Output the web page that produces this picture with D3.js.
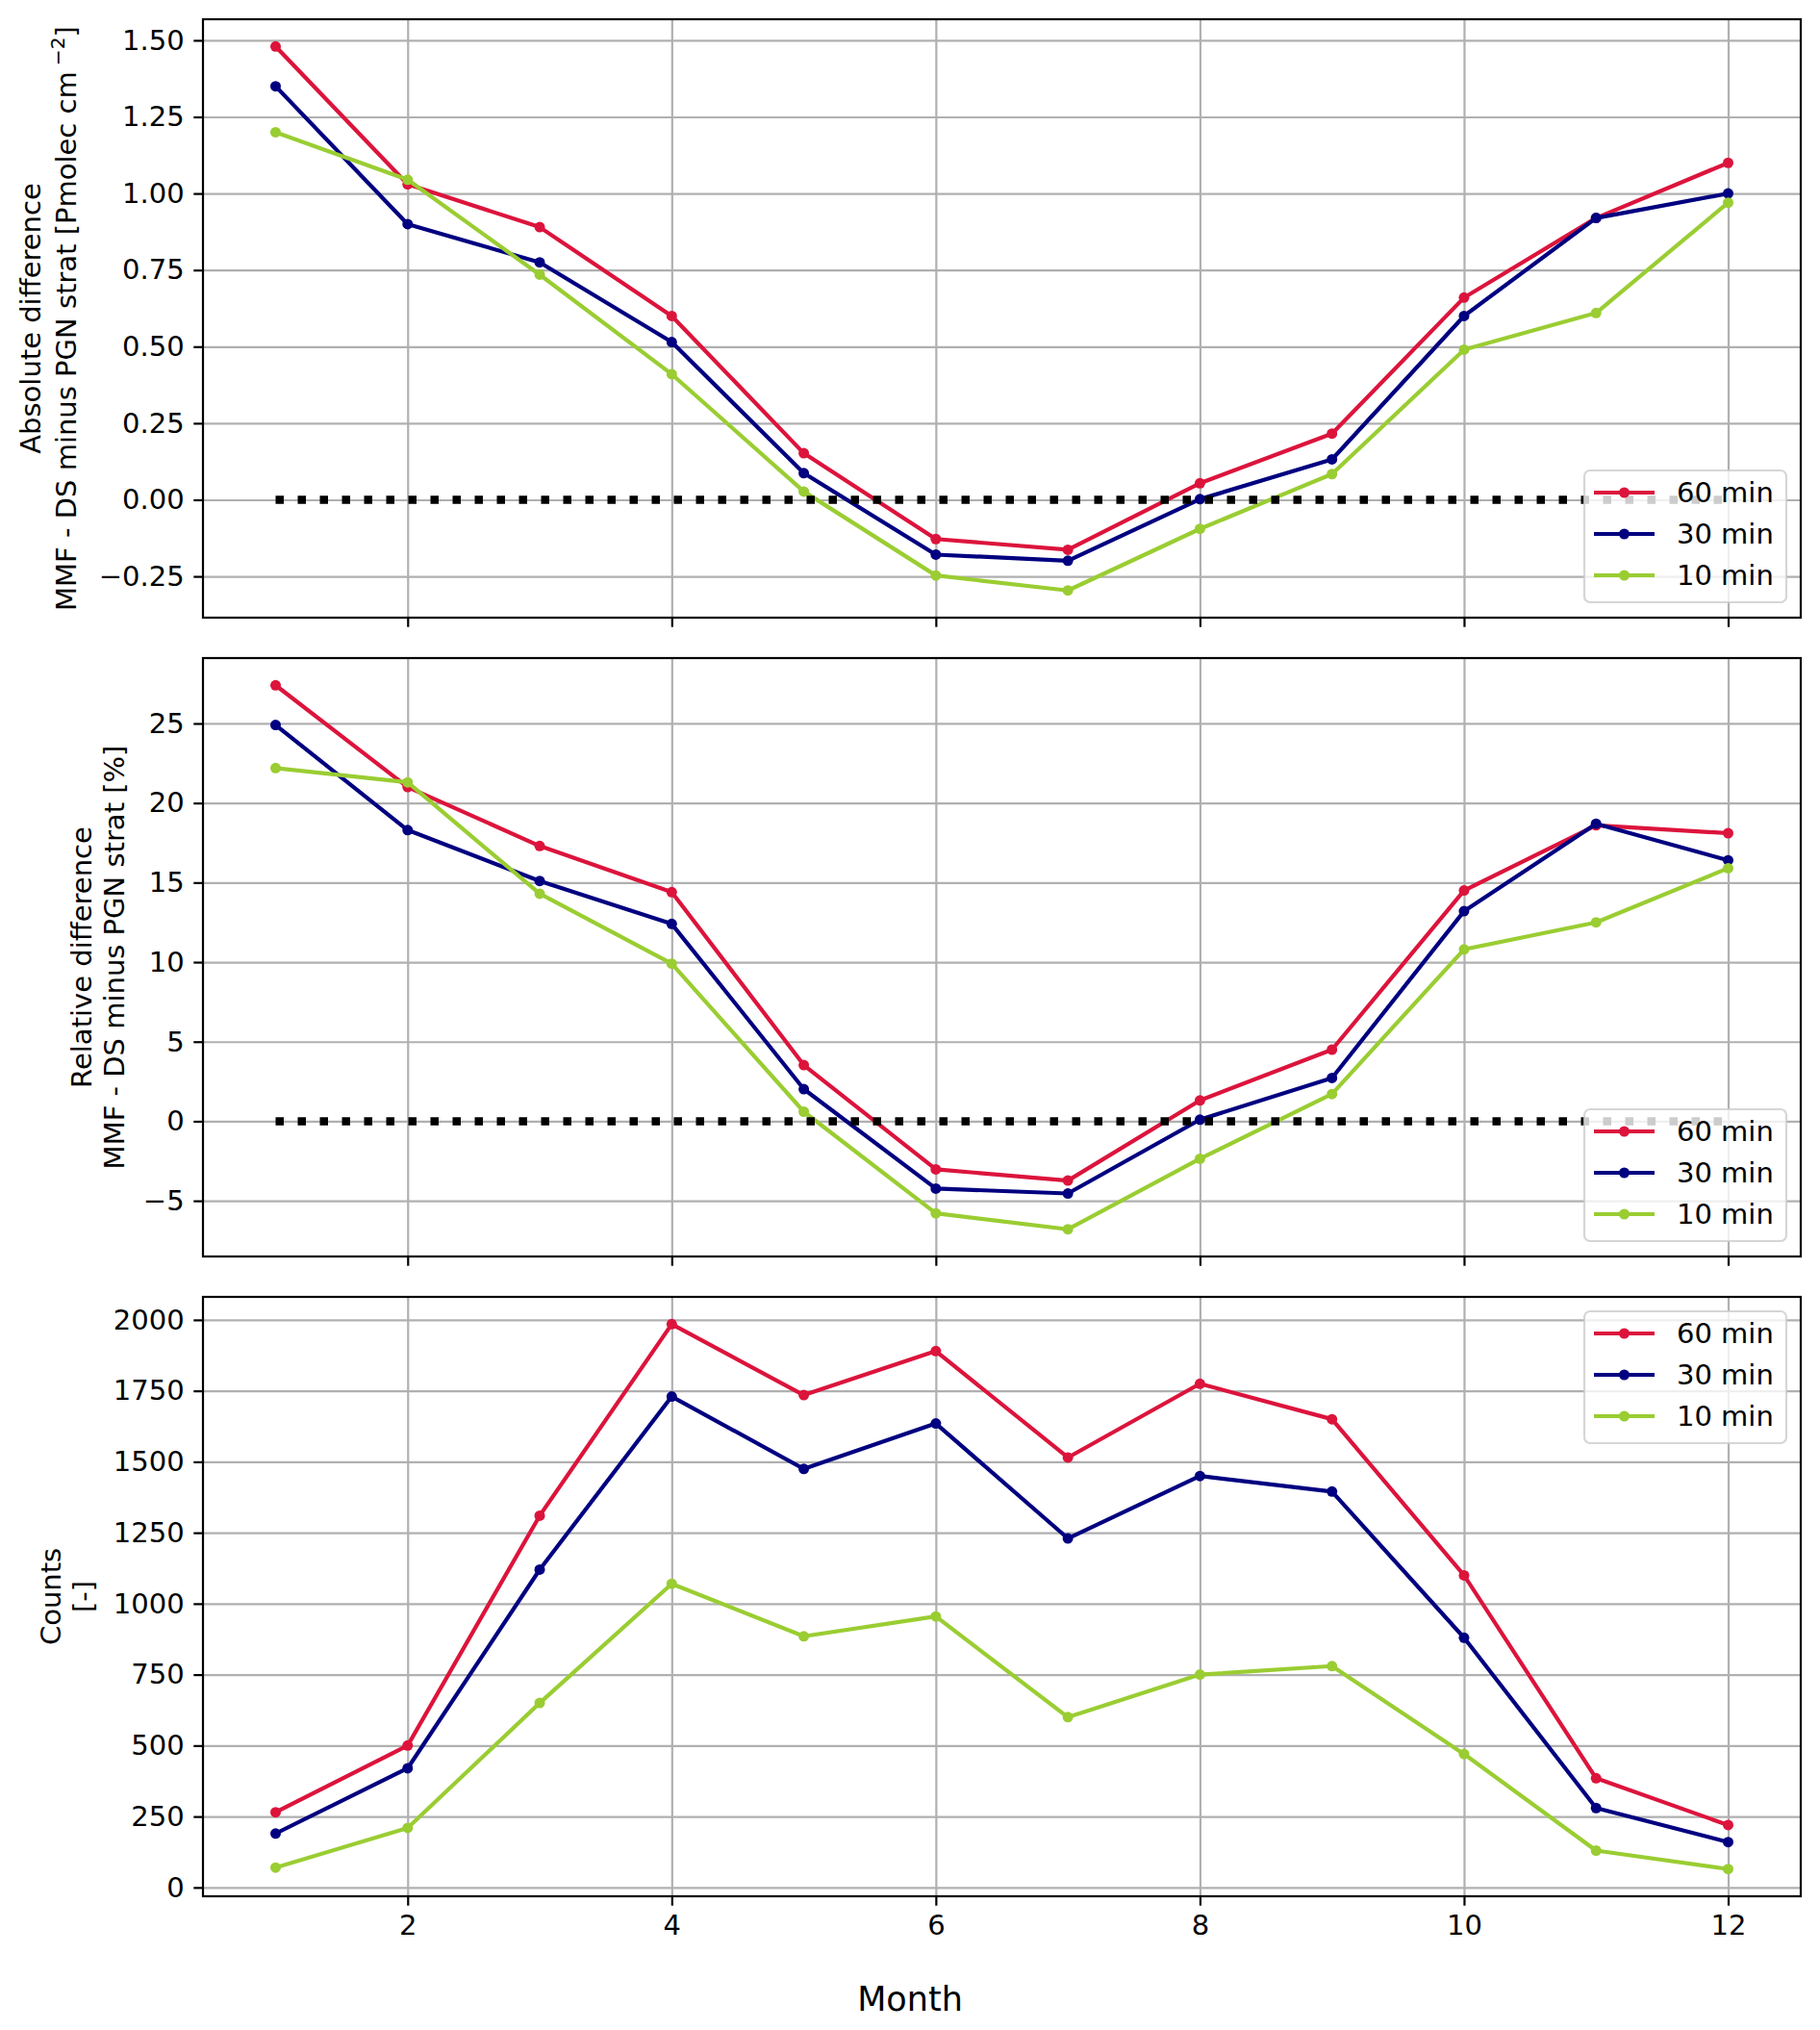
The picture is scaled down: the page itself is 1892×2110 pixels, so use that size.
<!DOCTYPE html>
<html>
<head>
<meta charset="utf-8">
<script src="https://cdn.jsdelivr.net/npm/d3@7"></script>
<style>
  body { margin: 0; background: #fff; }
  text { font-family: "DejaVu Sans", sans-serif; fill: #000; }
</style>
</head>
<body>
<svg id="chart"></svg>
<script>
// months on the x axis
const months = [1, 2, 3, 4, 5, 6, 7, 8, 9, 10, 11, 12];
const monthTicks = [2, 4, 6, 8, 10, 12];

const seriesNames = ["60 min", "30 min", "10 min"];
const seriesColors = ["#dc143c", "#000080", "#9acd32"];

// absolute difference [Pmolec cm-2]
const abs60 = [1.48, 1.03, 0.89, 0.60, 0.152, -0.128, -0.163, 0.054, 0.216, 0.66, 0.92, 1.10];
const abs30 = [1.35, 0.90, 0.775, 0.515, 0.087, -0.179, -0.199, 0.002, 0.132, 0.60, 0.92, 1.00];
const abs10 = [1.20, 1.045, 0.735, 0.41, 0.027, -0.247, -0.296, -0.095, 0.084, 0.49, 0.61, 0.97];
const absTicks = [-0.25, 0, 0.25, 0.5, 0.75, 1.0, 1.25, 1.5];

// relative difference [%]
const rel60 = [27.4, 21.0, 17.3, 14.4, 3.53, -3.02, -3.73, 1.31, 4.5, 14.5, 18.6, 18.1];
const rel30 = [24.9, 18.3, 15.1, 12.4, 2.02, -4.23, -4.54, 0.1, 2.72, 13.2, 18.7, 16.4];
const rel10 = [22.2, 21.3, 14.3, 9.9, 0.6, -5.79, -6.79, -2.36, 1.71, 10.8, 12.5, 15.9];
const relTicks = [-5, 0, 5, 10, 15, 20, 25];

// counts
const cnt60 = [265, 500, 1310, 1985, 1735, 1890, 1515, 1775, 1650, 1100, 385, 220];
const cnt30 = [190, 420, 1120, 1730, 1475, 1635, 1230, 1450, 1395, 880, 280, 160];
const cnt10 = [70, 210, 650, 1070, 885, 955, 600, 750, 780, 470, 130, 65];
const cntTicks = [0, 250, 500, 750, 1000, 1250, 1500, 1750, 2000];

const W = 1892, H = 2110;
const left = 211, right = 1872;
const fs = 29;

const svg = d3.select("#chart").attr("width", W).attr("height", H);
svg.append("rect").attr("width", W).attr("height", H).attr("fill", "#fff");

// matplotlib-like 5% padding
function padded(vals) {
    let e = d3.extent(vals);
    let p = (e[1] - e[0]) * 0.05;
    return [e[0] - p, e[1] + p];
}

const x = d3.scaleLinear().domain(padded(months)).range([left, right]);

const panels = [
    { top: 20, bottom: 642, data: [abs60, abs30, abs10], ticks: absTicks, fmt: d3.format(".2f"),
      zero: true, legend: "lower", labelX: [41.5, 79],
      label: [["Absolute difference"], ["MMF - DS minus PGN strat [Pmolec cm", "−2", "]"]] },
    { top: 684, bottom: 1306, data: [rel60, rel30, rel10], ticks: relTicks, fmt: d3.format("d"),
      zero: true, legend: "lower", labelX: [95, 128.5],
      label: [["Relative difference"], ["MMF - DS minus PGN strat [%]"]] },
    { top: 1348, bottom: 1971, data: [cnt60, cnt30, cnt10], ticks: cntTicks, fmt: d3.format("d"),
      zero: false, legend: "upper", labelX: [63, 96.5],
      label: [["Counts"], ["[-]"]], xLabels: true }
];

panels.forEach(function(p) {
    let y = d3.scaleLinear().domain(padded(p.data.flat())).range([p.bottom, p.top]);
    let g = svg.append("g");
    let w = right - left;

    // grid
    g.append("g").attr("transform", "translate(" + left + ",0)")
        .call(d3.axisLeft(y).tickValues(p.ticks).tickSize(-w).tickFormat(""))
        .call(s => s.select(".domain").remove())
        .selectAll("line").attr("stroke", "#b0b0b0").attr("stroke-width", 2.2);
    g.append("g").attr("transform", "translate(0," + p.bottom + ")")
        .call(d3.axisBottom(x).tickValues(monthTicks).tickSize(-(p.bottom - p.top)).tickFormat(""))
        .call(s => s.select(".domain").remove())
        .selectAll("line").attr("stroke", "#b0b0b0").attr("stroke-width", 2.2);

    // series
    let line = d3.line().x((d, i) => x(months[i])).y(d => y(d));
    p.data.forEach(function(vals, k) {
        let sg = g.append("g");
        sg.append("path").attr("d", line(vals)).attr("fill", "none")
            .attr("stroke", seriesColors[k]).attr("stroke-width", 4.2)
            .attr("stroke-linejoin", "round").attr("stroke-linecap", "square");
        sg.selectAll("circle").data(vals).enter().append("circle")
            .attr("cx", (d, i) => x(months[i])).attr("cy", d => y(d))
            .attr("r", 5.5).attr("fill", seriesColors[k]);
    });

    // zero reference line
    if (p.zero) {
        g.append("line")
            .attr("x1", x(months[0])).attr("x2", x(months[months.length - 1]))
            .attr("y1", y(0)).attr("y2", y(0))
            .attr("stroke", "#000").attr("stroke-width", 8.5)
            .attr("stroke-dasharray", "8.5,14.5");
    }

    // y axis
    let ya = g.append("g").attr("transform", "translate(" + left + ",0)")
        .call(d3.axisLeft(y).tickValues(p.ticks).tickSize(9.7).tickPadding(9.7).tickFormat(p.fmt));
    ya.select(".domain").remove();
    ya.selectAll("line").attr("stroke", "#000").attr("stroke-width", 2.2);
    ya.selectAll("text").attr("font-size", fs).attr("font-family", "DejaVu Sans").attr("fill", "#000");

    // x axis
    let xa = g.append("g").attr("transform", "translate(0," + p.bottom + ")")
        .call(d3.axisBottom(x).tickValues(monthTicks).tickSize(9.7).tickPadding(9.7)
            .tickFormat(p.xLabels ? d3.format("d") : ""));
    xa.select(".domain").remove();
    xa.selectAll("line").attr("stroke", "#000").attr("stroke-width", 2.2);
    xa.selectAll("text").attr("font-size", fs).attr("font-family", "DejaVu Sans").attr("fill", "#000");

    // frame
    g.append("rect").attr("x", left).attr("y", p.top).attr("width", w).attr("height", p.bottom - p.top)
        .attr("fill", "none").attr("stroke", "#000").attr("stroke-width", 2.2);

    // y label, two lines
    let cy = (p.top + p.bottom) / 2;
    p.label.forEach(function(parts, li) {
        let t = svg.append("text")
            .attr("transform", "translate(" + p.labelX[li] + "," + cy + ") rotate(-90)")
            .attr("text-anchor", "middle").attr("font-size", fs);
        t.append("tspan").text(parts[0]);
        if (parts.length > 1) {
            t.append("tspan").attr("font-size", fs * 0.7).attr("dy", -fs * 0.42).attr("dx", 6).text(parts[1]);
            t.append("tspan").attr("dy", fs * 0.42).text(parts[2]);
        }
    });

    // legend
    let lw = 210, lh = 137;
    let lx = right - 15 - lw;
    let ly = p.legend === "lower" ? p.bottom - 16 - lh : p.top + 15;
    let lg = svg.append("g").attr("transform", "translate(" + lx + "," + ly + ")");
    lg.append("rect").attr("width", lw).attr("height", lh).attr("rx", 6)
        .attr("fill", "#fff").attr("fill-opacity", 0.8)
        .attr("stroke", "#cccccc").attr("stroke-opacity", 0.8).attr("stroke-width", 2.2);
    seriesNames.forEach(function(name, k) {
        let ry = 23 + k * 43;
        lg.append("line").attr("x1", 10).attr("x2", 73).attr("y1", ry).attr("y2", ry)
            .attr("stroke", seriesColors[k]).attr("stroke-width", 4.2);
        lg.append("circle").attr("cx", 41.5).attr("cy", ry).attr("r", 5.5).attr("fill", seriesColors[k]);
        lg.append("text").attr("x", 96).attr("y", ry).attr("dy", "0.36em")
            .attr("font-size", fs).text(name);
    });
});

// shared x label
svg.append("text").attr("x", W / 2).attr("y", 2090).attr("text-anchor", "middle")
    .attr("font-size", 35).text("Month");
</script>
</body>
</html>
